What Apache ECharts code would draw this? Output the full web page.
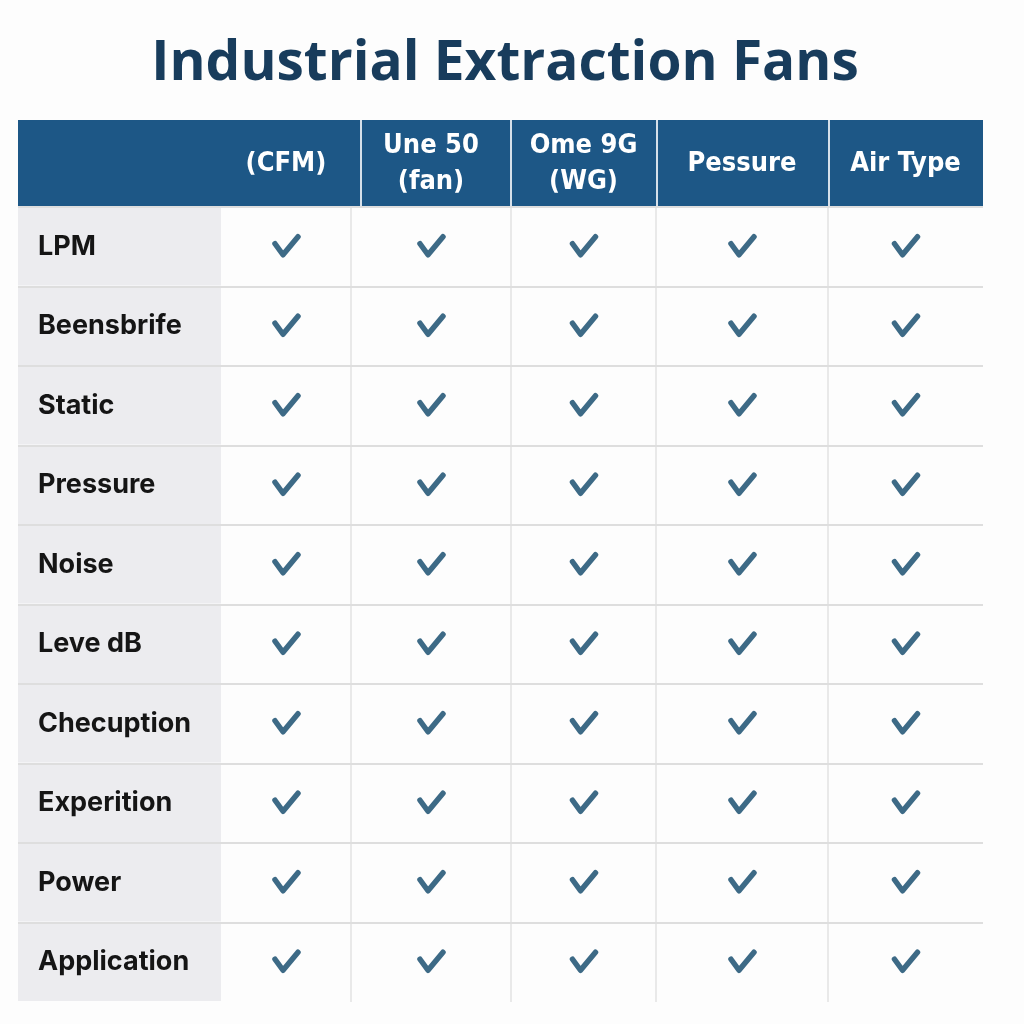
<!DOCTYPE html>
<html>
<head>
<meta charset="utf-8">
<script src="https://cdn.jsdelivr.net/npm/echarts@6/dist/echarts.min.js"></script>
<style>html,body{margin:0;padding:0;background:#fdfdfd;}#c{width:1024px;height:1024px;}</style>
</head>
<body>
<div id="c"></div>
<script>
// ---- data ----
const chartTitle = 'Industrial Extraction Fans';
const columnHeaders = ['(CFM)', 'Une 50\n(fan)', 'Ome 9G\n(WG)', 'Pessure', 'Air Type'];
const rowLabels = ['LPM', 'Beensbrife', 'Static', 'Pressure', 'Noise', 'Leve dB', 'Checuption', 'Experition', 'Power', 'Application'];
const checks = [
  [1, 1, 1, 1, 1],
  [1, 1, 1, 1, 1],
  [1, 1, 1, 1, 1],
  [1, 1, 1, 1, 1],
  [1, 1, 1, 1, 1],
  [1, 1, 1, 1, 1],
  [1, 1, 1, 1, 1],
  [1, 1, 1, 1, 1],
  [1, 1, 1, 1, 1],
  [1, 1, 1, 1, 1]
];

// ---- layout (column edges in table units) ----
const tableWidth = 965;
const colEdges = [0, 203, 333, 493, 638, 810, 965];
const headerEdges = [0, 343, 493, 639, 811, 965];

const bodyData = [];
rowLabels.forEach((lab, r) => {
  bodyData.push([0, r, 0]);
  checks[r].forEach((v, c) => bodyData.push([c + 1, r, v]));
});
const headerData = columnHeaders.map((h, i) => [i, 0, h]);

const chart = echarts.init(document.getElementById('c'), null, {renderer: 'canvas'});
chart.setOption({
  backgroundColor: '#fdfdfd',
  animation: false,
  title: {
    text: chartTitle,
    left: 500,
    textAlign: 'center',
    top: 32,
    textStyle: {fontSize: 55, fontWeight: 'bold', color: '#183c5c', fontFamily: 'Open Sans'}
  },
  grid: [
    {left: 18, width: tableWidth, top: 207, bottom: 22},
    {left: 18, width: tableWidth, top: 120, height: 87}
  ],
  xAxis: [
    {type: 'value', gridIndex: 0, min: 0, max: tableWidth, show: false},
    {type: 'value', gridIndex: 1, min: 0, max: tableWidth, show: false}
  ],
  yAxis: [
    {
      type: 'category', gridIndex: 0, data: rowLabels, inverse: true, z: 10,
      axisLine: {show: false}, axisTick: {show: false},
      axisLabel: {inside: true, margin: 20, fontSize: 27, fontWeight: 'bold', color: '#151515', fontFamily: 'Inter'},
      splitLine: {show: true, showMaxLine: false, lineStyle: {color: '#dedede', width: 2}}
    },
    {type: 'category', gridIndex: 1, data: ['h'], show: false}
  ],
  series: [
    {
      type: 'custom',
      xAxisIndex: 0, yAxisIndex: 0,
      z: 1,
      encode: {x: 0, y: 1},
      data: bodyData,
      renderItem: function (params, api) {
        const c = api.value(0), r = api.value(1), v = api.value(2);
        const x0 = api.coord([colEdges[c], r])[0];
        const x1 = api.coord([colEdges[c + 1], r])[0];
        const yc = api.coord([0, r])[1];
        const h = api.size([0, 1])[1];
        const ch = [];
        if (c === 0) {
          ch.push({type: 'rect', shape: {x: x0, y: yc - h / 2 + 1, width: x1 - x0, height: h - 2}, style: {fill: '#ececef'}});
        } else {
          if (c >= 2) {
            ch.push({type: 'line', shape: {x1: x0, y1: yc - h / 2, x2: x0, y2: yc + h / 2}, style: {stroke: '#e2e2e2', lineWidth: 1.5}});
          }
          if (v) {
            const xc = (x0 + x1) / 2;
            ch.push({type: 'polyline', shape: {points: [[xc - 11, yc - 3], [xc - 3, yc + 8], [xc + 12, yc - 10]]},
              style: {stroke: '#3d6a86', lineWidth: 5.5, lineCap: 'round', lineJoin: 'round', fill: null}});
          }
        }
        return {type: 'group', children: ch};
      }
    },
    {
      type: 'custom',
      xAxisIndex: 1, yAxisIndex: 1,
      encode: {x: 0, y: 1},
      data: headerData,
      renderItem: function (params, api) {
        const i = params.dataIndex;
        const label = columnHeaders[i];
        const x0 = api.coord([headerEdges[i], 0])[0];
        const x1 = api.coord([headerEdges[i + 1], 0])[0];
        const yc = api.coord([0, 0])[1];
        const h = api.size([0, 1])[1];
        const tx = api.coord([(colEdges[i + 1] + colEdges[i + 2]) / 2, 0])[0];
        const ch = [
          {type: 'rect', shape: {x: x0, y: yc - h / 2, width: x1 - x0, height: h}, style: {fill: '#1d5786'}}
        ];
        if (i > 0) {
          ch.push({type: 'line', shape: {x1: x0, y1: yc - h / 2, x2: x0, y2: yc + h / 2}, style: {stroke: '#d6e0ea', lineWidth: 2}});
        }
        ch.push({type: 'text', style: {text: label, x: tx, y: yc, align: 'center', verticalAlign: 'middle',
          fill: '#ffffff', fontSize: 27, fontWeight: 'bold', fontFamily: '"DejaVu Sans Condensed", "DejaVu Sans", sans-serif', lineHeight: 36}});
        return {type: 'group', children: ch};
      }
    }
  ]
});
</script>
</body>
</html>
